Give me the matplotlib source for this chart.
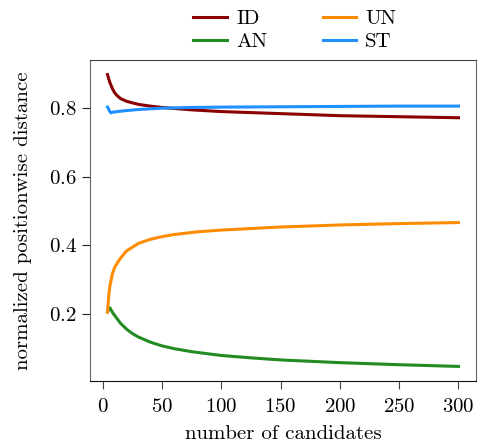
import matplotlib
matplotlib.use("Agg")
import matplotlib.pyplot as plt

plt.rcParams['font.family'] = ['cmr10', 'DejaVu Serif']
plt.rcParams['mathtext.fontset'] = 'cm'
plt.rcParams['axes.formatter.use_mathtext'] = True
plt.rcParams['font.size'] = 15

n_id = [4, 5, 6, 8, 10, 12, 15, 20, 30, 40, 50, 75, 100, 150, 200, 250, 300]
id_vals = [0.898, 0.886, 0.875, 0.858, 0.845, 0.837, 0.828, 0.820, 0.811, 0.806, 0.802, 0.795, 0.790, 0.784, 0.778, 0.775, 0.772]

n_un = [4, 5, 6, 8, 10, 13, 15, 20, 30, 40, 50, 60, 80, 100, 150, 200, 250, 300]
un_vals = [0.205, 0.25, 0.28, 0.315, 0.335, 0.352, 0.362, 0.383, 0.405, 0.417, 0.425, 0.431, 0.439, 0.444, 0.453, 0.459, 0.463, 0.466]

n_an = [4, 5, 6, 8, 10, 15, 20, 25, 30, 40, 50, 60, 75, 100, 125, 150, 200, 250, 300]
an_vals = [0.205, 0.214, 0.217, 0.205, 0.195, 0.172, 0.155, 0.142, 0.132, 0.117, 0.106, 0.098, 0.089, 0.078, 0.071, 0.065, 0.057, 0.051, 0.046]

n_st = [4, 5, 6, 7, 8, 10, 15, 20, 30, 50, 75, 100, 150, 200, 250, 300]
st_vals = [0.803, 0.797, 0.790, 0.786, 0.788, 0.789, 0.791, 0.793, 0.796, 0.800, 0.802, 0.803, 0.804, 0.805, 0.806, 0.806]

fig = plt.figure(figsize=(4.81, 4.46), dpi=100)
ax = fig.add_axes([0.187, 0.1457, 0.8026, 0.7198])

lw = 2.2
l1, = ax.plot(n_id, id_vals, color='#8B0000', lw=lw, label='ID')
l3, = ax.plot(n_an, an_vals, color='#228B22', lw=lw, label='AN')
l2, = ax.plot(n_un, un_vals, color='#FF8C00', lw=lw, label='UN')
l4, = ax.plot(n_st, st_vals, color='#1E90FF', lw=lw, label='ST')

ax.set_xticks([0, 50, 100, 150, 200, 250, 300])
ax.set_yticks([0.2, 0.4, 0.6, 0.8])
ax.set_xlabel('number of candidates', labelpad=7)
ax.set_ylabel('normalized positionwise distance', labelpad=12)

for s in ['left', 'right']:
    ax.spines[s].set_color('#666666')
ax.spines['top'].set_color('#444444')
ax.spines['bottom'].set_color('#111111')
ax.tick_params(axis='x', length=6, color='#444444', pad=6)
ax.tick_params(axis='y', length=6, color='#222222')

fig.legend(handles=[l1, l3, l2, l4], loc='upper center', bbox_to_anchor=(0.613, 1.02),
           ncol=2, frameon=False, handlelength=1.6, columnspacing=2.65,
           labelspacing=0.2, handletextpad=0.45)

fig.savefig('out.png', dpi=100)
